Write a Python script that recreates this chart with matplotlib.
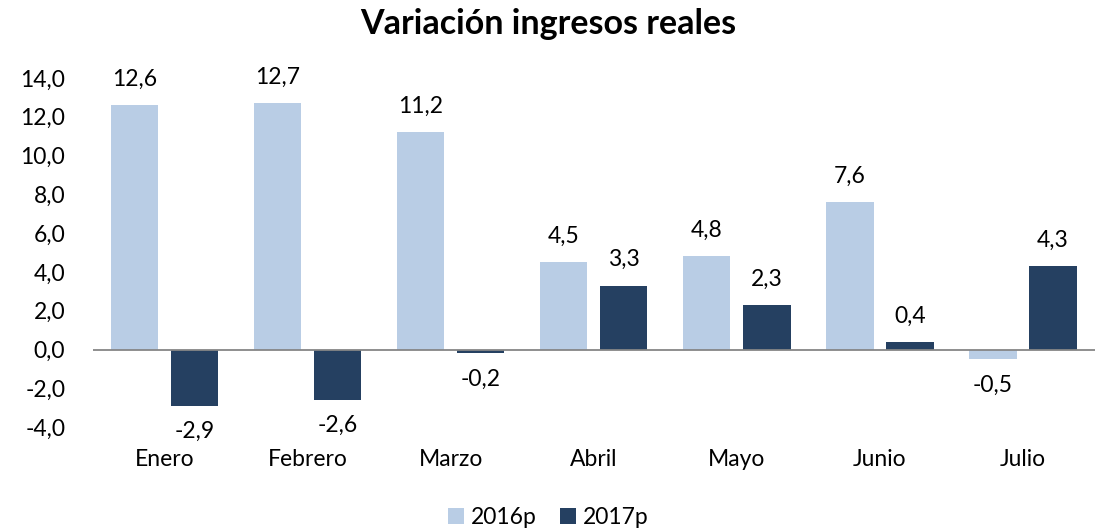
import numpy as np
import matplotlib
matplotlib.use("Agg")
import matplotlib.pyplot as plt
from matplotlib.ticker import FuncFormatter

months = ["Enero", "Febrero", "Marzo", "Abril", "Mayo", "Junio", "Julio"]
v2016 = [12.6, 12.7, 11.2, 4.5, 4.8, 7.6, -0.5]
v2017 = [-2.9, -2.6, -0.2, 3.3, 2.3, 0.4, 4.3]
series_names = ["2016p", "2017p"]

light = "#B9CDE5"
dark = "#254061"

plt.rcParams['font.family'] = ['Lato', 'DejaVu Sans']


def fmt(v):
    return f"{v:.1f}".replace(".", ",")


fig = plt.figure(figsize=(10.97, 5.30), dpi=100)
ax = fig.add_axes([0.0848, 0.194, 0.913, 0.659])

x = np.arange(len(months))
w = 0.33
off = 0.21
b1 = ax.bar(x - off, v2016, w, color=light, label=series_names[0], zorder=2)
b2 = ax.bar(x + off, v2017, w, color=dark, label=series_names[1], zorder=2)

# data labels, outside end like excel
for bars, vals in [(b1, v2016), (b2, v2017)]:
    for b, v in zip(bars, vals):
        cx = b.get_x() + b.get_width() / 2
        if v >= 0:
            ax.annotate(fmt(v), (cx, v), xytext=(0, 11), textcoords="offset points",
                        ha="center", va="bottom", fontsize=16.5, color="#000000")
        else:
            ax.annotate(fmt(v), (cx, v), xytext=(0, -11), textcoords="offset points",
                        ha="center", va="top", fontsize=16.5, color="#000000")

ax.axhline(0, color="#868686", lw=1.3, zorder=3)
ax.set_xlim(-0.5, len(months) - 0.5)
ax.set_ylim(-4, 14)
ax.set_yticks(np.arange(-4, 15, 2))
ax.yaxis.set_major_formatter(FuncFormatter(lambda v, p: fmt(v)))
ax.set_xticks(x)
ax.set_xticklabels(months)
ax.tick_params(axis="both", length=0, labelsize=16.5, colors="#000000")
ax.tick_params(axis="x", pad=16)
ax.tick_params(axis="y", pad=20)
for s in ax.spines.values():
    s.set_visible(False)

fig.suptitle("Variación ingresos reales", y=0.985, fontsize=24.5, fontweight="bold")
fig.legend(loc="lower center", bbox_to_anchor=(0.5, -0.035), ncol=2, frameon=False,
           fontsize=16.5, handlelength=0.7, handleheight=0.7, handletextpad=0.3,
           columnspacing=1.0)

fig.savefig("out.png", dpi=100)
